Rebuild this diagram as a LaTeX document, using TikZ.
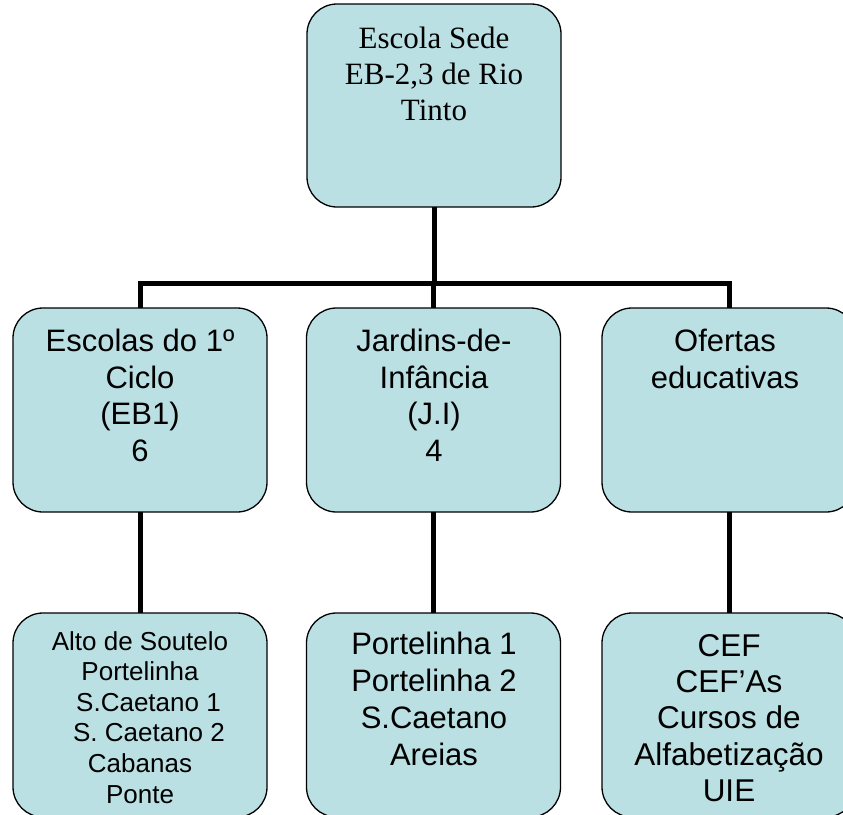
\documentclass[tikz,border=0pt]{standalone}
\usepackage{fontspec}
\setmainfont{Liberation Serif}
\setsansfont{Liberation Sans}
\definecolor{boxfill}{RGB}{186,224,227}
\begin{document}
\begin{tikzpicture}[x=1pt,y=-1pt,
  box/.style={draw=black, line width=1.3pt, fill=boxfill, rounded corners=30pt,
    minimum width=254pt, inner sep=0pt, outer sep=0pt},
  txt/.style={anchor=north, align=center, inner sep=0pt, text=black},
  conn/.style={draw=black, line width=5pt, line join=miter}]
\useasboundingbox (0,0) rectangle (843,814);
\begin{scope}
\clip (0,0) rectangle (843,814);
% boxes
\node[box, minimum height=203pt] (top) at (434,105.5) {};
\node[box, minimum height=204pt] (m1) at (140,410) {};
\node[box, minimum height=204pt] (m2) at (433.5,410) {};
\node[box, minimum height=204pt] (m3) at (729,410) {};
\node[box, minimum height=204pt] (b1) at (140,715) {};
\node[box, minimum height=204pt] (b2) at (433.5,715) {};
\node[box, minimum height=204pt] (b3) at (729,715) {};
% connectors
\coordinate (bus) at (0,283);
\draw[conn] (top.south) -- (top.south |- bus);
\draw[conn] (m1.north) -- (m1.north |- bus) -| (m3.north);
\draw[conn] (m2.north) -- (m2.north |- bus);
\draw[conn] (m1.south) -- (b1.north);
\draw[conn] (m2.south) -- (b2.north);
\draw[conn] (m3.south) -- (b3.north);
% texts
\node[txt, font=\rmfamily\fontsize{31}{36}\selectfont] (ttop) at (434,26.5)
  {Escola Sede\\EB-2,3 de Rio\\Tinto};
\node[txt, font=\sffamily\fontsize{31}{36.5}\selectfont] (tm1) at (140,329)
  {Escolas do 1º\\Ciclo\\(EB1)\\6};
\node[txt, font=\sffamily\fontsize{31}{36.5}\selectfont] (tm2) at (434,329)
  {Jardins-de-\\Infância\\(J.I)\\4};
\node[txt, font=\sffamily\fontsize{31}{36.5}\selectfont] (tm3) at (725,329)
  {Ofertas\\educativas};
\node[txt, font=\sffamily\fontsize{26}{30.6}\selectfont] (tb1) at (140,631)
  {Alto de Soutelo\\Portelinha\\\hspace*{17pt}S.Caetano 1\\\hspace*{18pt}S. Caetano 2\\Cabanas\\Ponte};
\node[txt, font=\sffamily\fontsize{31}{37}\selectfont] (tb2) at (434,632)
  {Portelinha 1\\Portelinha 2\\S.Caetano\\Areias};
\node[txt, font=\sffamily\fontsize{31.5}{36.3}\selectfont] (tb3) at (729,634)
  {CEF\\CEF’As\\Cursos de\\Alfabetização\\UIE};
\end{scope}
\end{tikzpicture}
\end{document}
